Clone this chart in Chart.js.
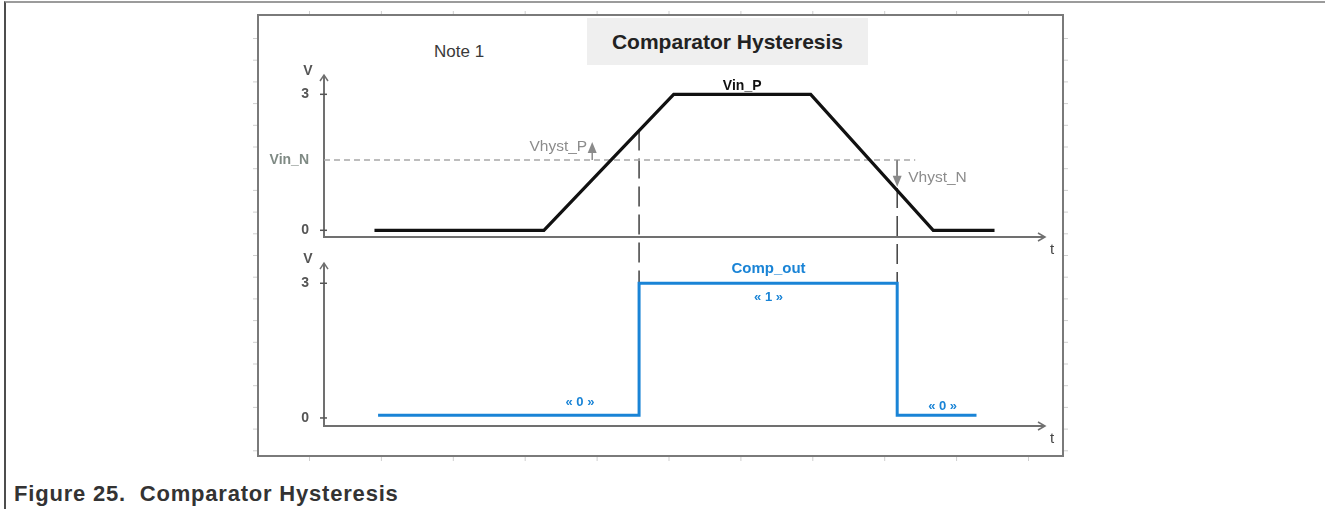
<!DOCTYPE html>
<html>
<head>
<meta charset="utf-8">
<script src="https://cdn.jsdelivr.net/npm/chart.js@4.4.1/dist/chart.umd.min.js"></script>
<style>
  html, body { margin: 0; background: #fff; }
  body { width: 1325px; height: 509px; position: relative; overflow: hidden; font-family: "Liberation Sans", Arial, sans-serif; }
  .page { position: absolute; left: 4px; top: 1px; right: 0; bottom: 0; border-left: 2px solid #4d4d4d; border-top: 2px solid #9b9b9b; }
  .frame { position: absolute; left: 257px; top: 14px; width: 803px; height: 439px; border: 2px solid #7a7a7a; }
  .title { position: absolute; left: 587px; top: 18px; width: 281px; height: 47px; background: #efefef;
           display: flex; align-items: center; justify-content: center; font-weight: bold; font-size: 21px; color: #222; }
  .note { position: absolute; left: 434px; top: 42px; font-size: 17px; color: #3a3a3a; }
  .caption { position: absolute; left: 14px; top: 481px; font-size: 22px; letter-spacing: 0.8px; font-weight: bold; color: #333; white-space: pre; }
  canvas { position: absolute; left: 0; top: 0; }
</style>
</head>
<body>
<div class="page"></div>
<div class="frame"></div>
<div class="title">Comparator Hysteresis</div>
<div class="note">Note 1</div>
<div class="caption">Figure 25.  Comparator Hysteresis</div>
<canvas id="chart" width="1325" height="509"></canvas>
<script>
// Comparateur : entrée Vin_P (trapèze) contre seuil Vin_N, sortie Comp_out.
const vinT = [0.7, 3.05, 4.85, 6.75, 8.45, 9.3];
const vinV = [0, 0, 3, 3, 0, 0];
const vinN = 1.55;
const vinNSpan = [0, 8.2];
const outT = [0.75, 4.37, 7.95, 9.05];
const outV = [0.06, 3, 0.06, 0.06];
const edgeT = [4.37, 7.95];      // instants de basculement
const edgeV = [2.2, vinN];       // niveau de Vin_P où part le pointillé
const hystT = [3.72, 7.95];
const hystV = [1.95, 0.96];      // pointe des flèches Vhyst_P / Vhyst_N
const topTicks = [0, vinN, 3];
const botTicks = [0, 3];

const FONT = '"Liberation Sans", Arial, sans-serif';
const BLUE = '#1a84d6';

function seg(ctx, x1, y1, x2, y2) { ctx.beginPath(); ctx.moveTo(x1, y1); ctx.lineTo(x2, y2); ctx.stroke(); }

function drawAxis(ctx, xs, ys, base, tip, ticks) {
  const x0 = xs.getPixelForValue(0), x1 = xs.getPixelForValue(xs.max);
  const yb = ys.getPixelForValue(base), yt = ys.getPixelForValue(tip);
  ctx.strokeStyle = '#707070'; ctx.lineWidth = 2; ctx.setLineDash([]);
  ctx.beginPath(); ctx.moveTo(x0, yt); ctx.lineTo(x0, yb); ctx.lineTo(x1, yb); ctx.stroke();
  ctx.lineWidth = 1.5;
  ctx.beginPath(); ctx.moveTo(x0 - 4, yt + 6); ctx.lineTo(x0, yt); ctx.lineTo(x0 + 4, yt + 6); ctx.stroke();
  ctx.beginPath(); ctx.moveTo(x1 - 7, yb - 4); ctx.lineTo(x1, yb); ctx.lineTo(x1 - 7, yb + 4); ctx.stroke();
  ctx.strokeStyle = '#555';
  ticks.forEach((v) => { const y = ys.getPixelForValue(v); seg(ctx, x0 - 4, y, x0 + 3, y); });
  ctx.fillStyle = '#555'; ctx.font = `bold 14px ${FONT}`; ctx.textAlign = 'center'; ctx.textBaseline = 'middle';
  ctx.fillText('V', x0 - 16, yt - 4);
  ctx.fillStyle = '#444'; ctx.font = `15px ${FONT}`;
  ctx.fillText('t', x1 + 7, yb + 13);
}

function text(ctx, s, x, y, font, color, align = 'center') {
  ctx.font = font; ctx.fillStyle = color; ctx.textAlign = align; ctx.textBaseline = 'middle';
  ctx.fillText(s, x, y);
}

const annot = {
  id: 'annot',
  beforeDraw(chart) {
    // petites graduations grises autour du cadre
    const ctx = chart.ctx;
    ctx.save(); ctx.strokeStyle = '#cfcfcf'; ctx.lineWidth = 1;
    for (let i = 0; i < 11; i++) { const px = 309.5 + i * 71.9; seg(ctx, px, 11, px, 14); seg(ctx, px, 457, px, 461); }
    for (let i = 0; i < 20; i++) { const py = 38.5 + i * 21.7; seg(ctx, 253, py, 257, py); seg(ctx, 1064, py, 1068, py); }
    ctx.restore();
  },
  beforeDatasetsDraw(chart) {
    const { ctx, scales: { x, yTop, yBot } } = chart;
    ctx.save();
    drawAxis(ctx, x, yTop, -0.148, yTop.max, [0, 3]);
    drawAxis(ctx, x, yBot, yBot.min, 3.45, botTicks);
    ctx.strokeStyle = '#404040'; ctx.lineWidth = 1.5; ctx.setLineDash([20, 8]);
    edgeT.forEach((t, i) => {
      const px = x.getPixelForValue(t);
      seg(ctx, px, yTop.getPixelForValue(edgeV[i]), px, yBot.getPixelForValue(outV[0]));
    });
    ctx.restore();
  },
  afterDatasetsDraw(chart) {
    const { ctx, scales: { x, yTop, yBot } } = chart;
    ctx.save();
    // flèches d'hystérésis
    ctx.strokeStyle = ctx.fillStyle = '#8a8a8a'; ctx.lineWidth = 1.5;
    hystT.forEach((t, i) => {
      const px = x.getPixelForValue(t), y0 = yTop.getPixelForValue(vinN), y1 = yTop.getPixelForValue(hystV[i]);
      const dir = y1 < y0 ? 1 : -1;
      seg(ctx, px, y0, px, y1 + dir * 6);
      ctx.beginPath(); ctx.moveTo(px, y1); ctx.lineTo(px - 4.5, y1 + dir * 11); ctx.lineTo(px + 4.5, y1 + dir * 11); ctx.closePath(); ctx.fill();
    });
    const g = `15.5px ${FONT}`;
    text(ctx, 'Vhyst_P', x.getPixelForValue(hystT[0]) - 5, yTop.getPixelForValue(1.84), g, '#8c8c8c', 'right');
    text(ctx, 'Vhyst_N', x.getPixelForValue(hystT[1]) + 11, yTop.getPixelForValue(1.16), g, '#8c8c8c', 'left');
    text(ctx, 'Vin_P', x.getPixelForValue(5.8), yTop.getPixelForValue(3.19), `bold 14px ${FONT}`, '#111');
    text(ctx, 'Comp_out', x.getPixelForValue(6.165), yBot.getPixelForValue(3.31), `bold 15px ${FONT}`, BLUE);
    text(ctx, '« 1 »', x.getPixelForValue(6.165), yBot.getPixelForValue(2.69), `bold 13px ${FONT}`, BLUE);
    text(ctx, '« 0 »', x.getPixelForValue(3.55), yBot.getPixelForValue(0.34), `bold 13px ${FONT}`, BLUE);
    text(ctx, '« 0 »', x.getPixelForValue(8.58), yBot.getPixelForValue(0.26), `bold 13px ${FONT}`, BLUE);
    ctx.restore();
  },
};

const yCommon = {
  type: 'linear', position: 'left', stack: 'v', stackWeight: 1,
  grid: { display: false }, border: { display: false },
  afterFit: (s) => { s.width = 324; },
};

new Chart(document.getElementById('chart'), {
  type: 'line',
  data: {
    datasets: [
      { label: 'Vin_P', yAxisID: 'yTop', order: 0, data: vinT.map((t, i) => ({ x: t, y: vinV[i] })),
        borderColor: '#111', borderWidth: 3.2, pointRadius: 0, tension: 0 },
      { label: 'Comp_out', yAxisID: 'yBot', order: 1, stepped: 'before', data: outT.map((t, i) => ({ x: t, y: outV[i] })),
        borderColor: BLUE, borderWidth: 3, pointRadius: 0 },
      { label: 'Vin_N', yAxisID: 'yTop', order: 2, data: vinNSpan.map((t) => ({ x: t, y: vinN })),
        borderColor: '#a8a8a8', borderWidth: 1.5, borderDash: [6, 4], pointRadius: 0 },
    ],
  },
  options: {
    responsive: false, animation: false, devicePixelRatio: 1,
    layout: { padding: { left: 0, right: 280, top: 75, bottom: 83 } },
    plugins: { legend: { display: false }, tooltip: { enabled: false } },
    scales: {
      x: { type: 'linear', min: 0, max: 10, display: false },
      yTop: { ...yCommon, weight: 1, min: -0.446, max: 3.426,
        afterBuildTicks: (s) => { s.ticks = topTicks.map((v) => ({ value: v })); },
        ticks: { padding: 7, callback: (v) => (v === vinN ? 'Vin_N' : String(v)),
          color: (c) => (c.tick && c.tick.value === vinN ? '#7f8a84' : '#555'),
          font: (c) => ({ family: FONT, weight: 'bold', size: c.tick && c.tick.value === vinN ? 14 : 14 }) } },
      yBot: { ...yCommon, weight: 0, min: -0.179, max: 3.73,
        afterBuildTicks: (s) => { s.ticks = botTicks.map((v) => ({ value: v })); },
        ticks: { padding: 7, color: '#555', font: { family: FONT, weight: 'bold', size: 14 } } },
    },
  },
  plugins: [annot],
});
</script>
</body>
</html>
